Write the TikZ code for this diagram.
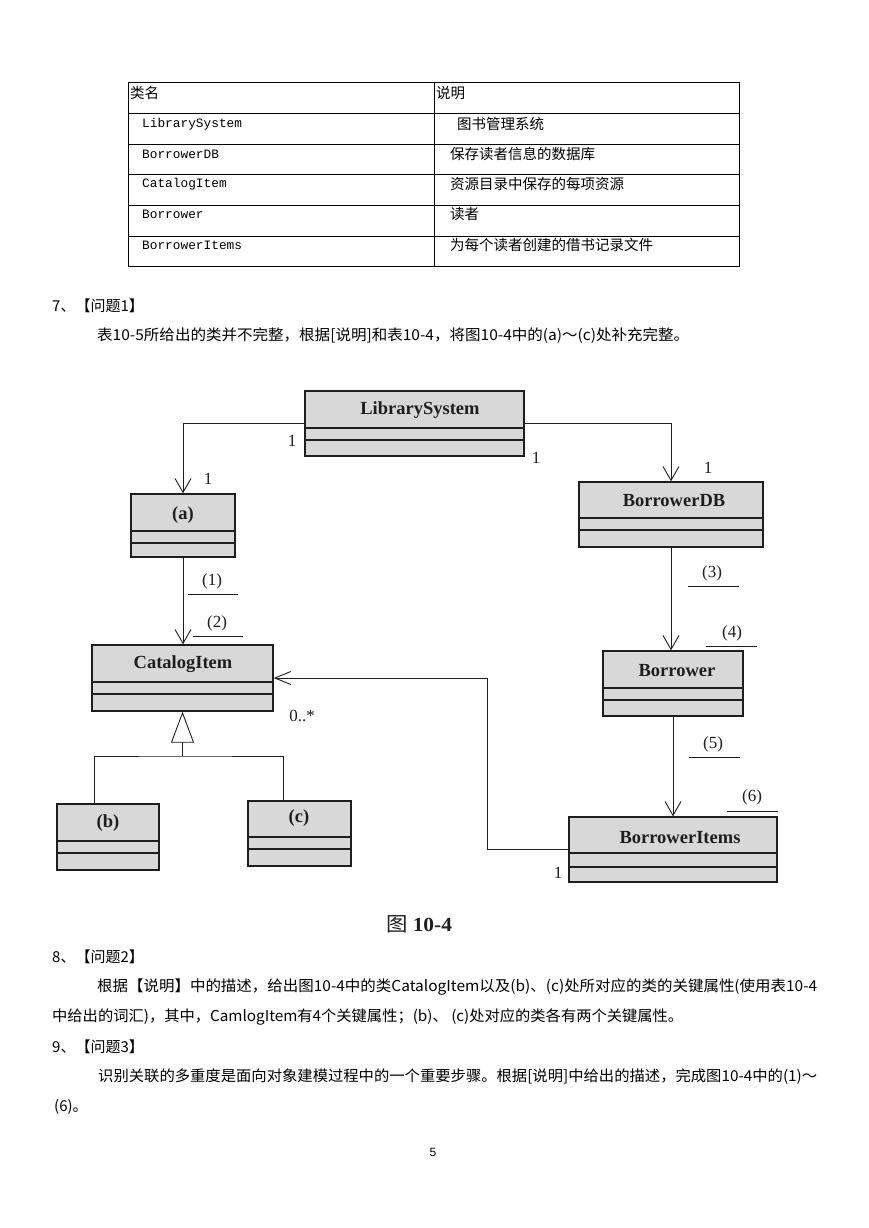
\documentclass[tikz,border=0pt]{standalone}
\usepackage{fontspec}
\usepackage{graphicx}
\setmainfont{Liberation Serif}
\newfontfamily\cjk{Noto Sans CJK SC}
\newfontfamily\monof{Liberation Mono}
\newfontfamily\sansf{Liberation Sans}
\usetikzlibrary{arrows.meta}
\definecolor{clsfill}{RGB}{216,216,216}
\definecolor{ink}{RGB}{30,30,30}
\newcommand\fitw[2]{\resizebox{#1}{\height}{#2}}
\tikzset{
  cls/.style={draw=ink, line width=1.3pt, fill=clsfill, inner sep=0pt},
  compline/.style={draw=ink, line width=1.2pt},
  clsname/.style={font=\bfseries\fontsize{18.5}{20}\selectfont, text=ink, inner sep=0pt},
  mult/.style={font=\fontsize{17}{19}\selectfont, text=ink, inner sep=0pt},
  uline/.style={draw=ink, line width=0.9pt},
  assoc/.style={draw=ink, line width=0.9pt, -{Straight Barb[length=14pt,width=16pt,line width=0.9pt]}},
  assocs/.style={draw=ink, line width=0.9pt, -{Straight Barb[length=16pt,width=13pt,line width=0.9pt]}},
  gen/.style={draw=ink, line width=0.9pt, -{Triangle[open,length=31pt,width=23pt,line width=0.9pt]}},
  plain/.style={draw=ink, line width=0.9pt},
  tbl/.style={draw=black, line width=0.7pt},
  tcjk/.style={font=\cjk\fontsize{14.5}{17}\selectfont, anchor=west, inner sep=0pt},
  tmono/.style={font=\monof\fontsize{12.8}{15}\selectfont, anchor=west, inner sep=0pt},
  body/.style={font=\cjk\fontsize{15}{18}\selectfont, anchor=west, inner sep=0pt},
}
\begin{document}
\begin{tikzpicture}[x=1pt,y=-1pt]
\useasboundingbox (0,0) rectangle (869,1228);
\fill[white] (0,0) rectangle (869,1228);

% ---------- table ----------
\draw[tbl] (128,82) rectangle (739,266);
\foreach \yy in {113,144,174,205,236} \draw[tbl] (128,\yy) -- (739,\yy);
\draw[tbl] (434,82) -- (434,266);
\node[tcjk] (h1) at (130,93) {类名};
\node[tcjk] (h2) at (436,93) {说明};
\node[tmono] (r1a) at (142,124) {LibrarySystem};
\node[tcjk]  (r1b) at (457,124) {图书管理系统};
\node[tmono] (r2a) at (142,154) {BorrowerDB};
\node[tcjk]  (r2b) at (450,154) {保存读者信息的数据库};
\node[tmono] (r3a) at (142,184) {CatalogItem};
\node[tcjk]  (r3b) at (450,184) {资源目录中保存的每项资源};
\node[tmono] (r4a) at (142,214) {Borrower};
\node[tcjk]  (r4b) at (450,214) {读者};
\node[tmono] (r5a) at (142,245) {BorrowerItems};
\node[tcjk]  (r5b) at (450,245) {为每个读者创建的借书记录文件};

% ---------- text above ----------
\node[body] (q1) at (52,306) {7、【问题1】};
\node[body] (q1t) at (97,336) {\fitw{592pt}{表10-5所给出的类并不完整，根据[说明]和表10-4，将图10-4中的(a)～(c)处补充完整。}};

% ---------- classes ----------
\node[cls, minimum width=219pt, minimum height=65pt] (ls) at (414.5,423.5) {};
\draw[compline] (ls.west |- 0,428) -- (ls.east |- 0,428);
\draw[compline] (ls.west |- 0,440) -- (ls.east |- 0,440);
\node[clsname] (lsn) at (420,410) {LibrarySystem};

\node[cls, minimum width=104pt, minimum height=63pt] (ca) at (183,525.5) {};
\draw[compline] (ca.west |- 0,531) -- (ca.east |- 0,531);
\draw[compline] (ca.west |- 0,543) -- (ca.east |- 0,543);
\node[clsname] (can) at (183,515) {(a)};

\node[cls, minimum width=184pt, minimum height=65pt] (db) at (671,514.5) {};
\draw[compline] (db.west |- 0,518) -- (db.east |- 0,518);
\draw[compline] (db.west |- 0,530) -- (db.east |- 0,530);
\node[clsname] (dbn) at (674,501) {BorrowerDB};

\node[cls, minimum width=140pt, minimum height=65pt] (br) at (673,683.5) {};
\draw[compline] (br.west |- 0,688) -- (br.east |- 0,688);
\draw[compline] (br.west |- 0,700) -- (br.east |- 0,700);
\node[clsname] (brn) at (677,671) {Borrower};

\node[cls, minimum width=208pt, minimum height=65pt] (bi) at (673,849.5) {};
\draw[compline] (bi.west |- 0,853) -- (bi.east |- 0,853);
\draw[compline] (bi.west |- 0,867) -- (bi.east |- 0,867);
\node[clsname] (bin) at (680,838) {BorrowerItems};

\node[cls, minimum width=181pt, minimum height=66pt] (ci) at (182.5,678) {};
\draw[compline] (ci.west |- 0,682) -- (ci.east |- 0,682);
\draw[compline] (ci.west |- 0,694) -- (ci.east |- 0,694);
\node[clsname] (cin) at (183,664) {CatalogItem};

\node[cls, minimum width=102pt, minimum height=66pt] (cb) at (108,837) {};
\draw[compline] (cb.west |- 0,841) -- (cb.east |- 0,841);
\draw[compline] (cb.west |- 0,853) -- (cb.east |- 0,853);
\node[clsname] (cbn) at (108,823) {(b)};

\node[cls, minimum width=103pt, minimum height=65pt] (cc) at (299.5,833.5) {};
\draw[compline] (cc.west |- 0,837) -- (cc.east |- 0,837);
\draw[compline] (cc.west |- 0,849) -- (cc.east |- 0,849);
\node[clsname] (ccn) at (299,818) {(c)};

% ---------- connectors ----------
\draw[assoc] (ls.west) -| (ca.north);
\draw[assoc] (ls.east) -| (db.north);
\draw[assoc] (ca.south) -- (ca.south |- ci.north);
\draw[assoc] (db.south) -- (db.south |- br.north);
\draw[assoc] (br.south) -- (br.south |- bi.north);
\coordinate (turn) at (487,0);
\draw[assocs] (bi.west) -- (turn |- bi.west) |- (ci.east);
\coordinate (gb) at (182.5,756);
\draw[gen] (gb) -- (ci.south);
\draw[plain] ([xshift=-14pt]cb.north) |- (gb) -| ([xshift=-16.5pt]cc.north);

% ---------- multiplicities / labels ----------
\node[mult] (m1) at (292,441) {1};
\node[mult] (m2) at (208,479) {1};
\node[mult] (m3) at (536,458) {1};
\node[mult] (m4) at (708,468) {1};
\node[mult] (m5) at (302,716) {0..*};
\node[mult] (m6) at (558,873) {1};

\node[mult] (l1) at (212,581) {(1)};
\draw[uline] (188,594) -- (238,594);
\node[mult] (l2) at (217,623) {(2)};
\draw[uline] (193,636) -- (243,636);
\node[mult] (l3) at (712,573) {(3)};
\draw[uline] (688,586) -- (739,586);
\node[mult] (l4) at (732,633) {(4)};
\draw[uline] (706,646) -- (757,646);
\node[mult] (l5) at (713,744) {(5)};
\draw[uline] (689,757) -- (740,757);
\node[mult] (l6) at (752,797) {(6)};
\draw[uline] (727,811) -- (778,811);

% ---------- caption ----------
\node[inner sep=0pt, text=ink] (cap) at (419,924) {\fitw{66pt}{{\cjk\fontsize{20}{22}\selectfont 图}\hspace{5pt}{\bfseries\fontsize{20}{22}\selectfont 10-4}}};

% ---------- text below ----------
\node[body] (q2) at (52,957) {8、【问题2】};
\node[body] (q2a) at (97,987) {\fitw{720pt}{根据【说明】中的描述，给出图10-4中的类CatalogItem以及(b)、(c)处所对应的类的关键属性(使用表10-4}};
\node[body] (q2b) at (52,1017) {\fitw{631pt}{中给出的词汇)，其中，CamlogItem有4个关键属性；(b)、 (c)处对应的类各有两个关键属性。}};
\node[body] (q3) at (52,1047) {9、【问题3】};
\node[body] (q3a) at (98,1077) {\fitw{719pt}{识别关联的多重度是面向对象建模过程中的一个重要步骤。根据[说明]中给出的描述，完成图10-4中的(1)～}};
\node[body] (q3b) at (54,1107) {(6)。};

\node[inner sep=0pt, font=\sansf\fontsize{12}{14}\selectfont] (pg) at (433,1152) {5};
\end{tikzpicture}
\end{document}
